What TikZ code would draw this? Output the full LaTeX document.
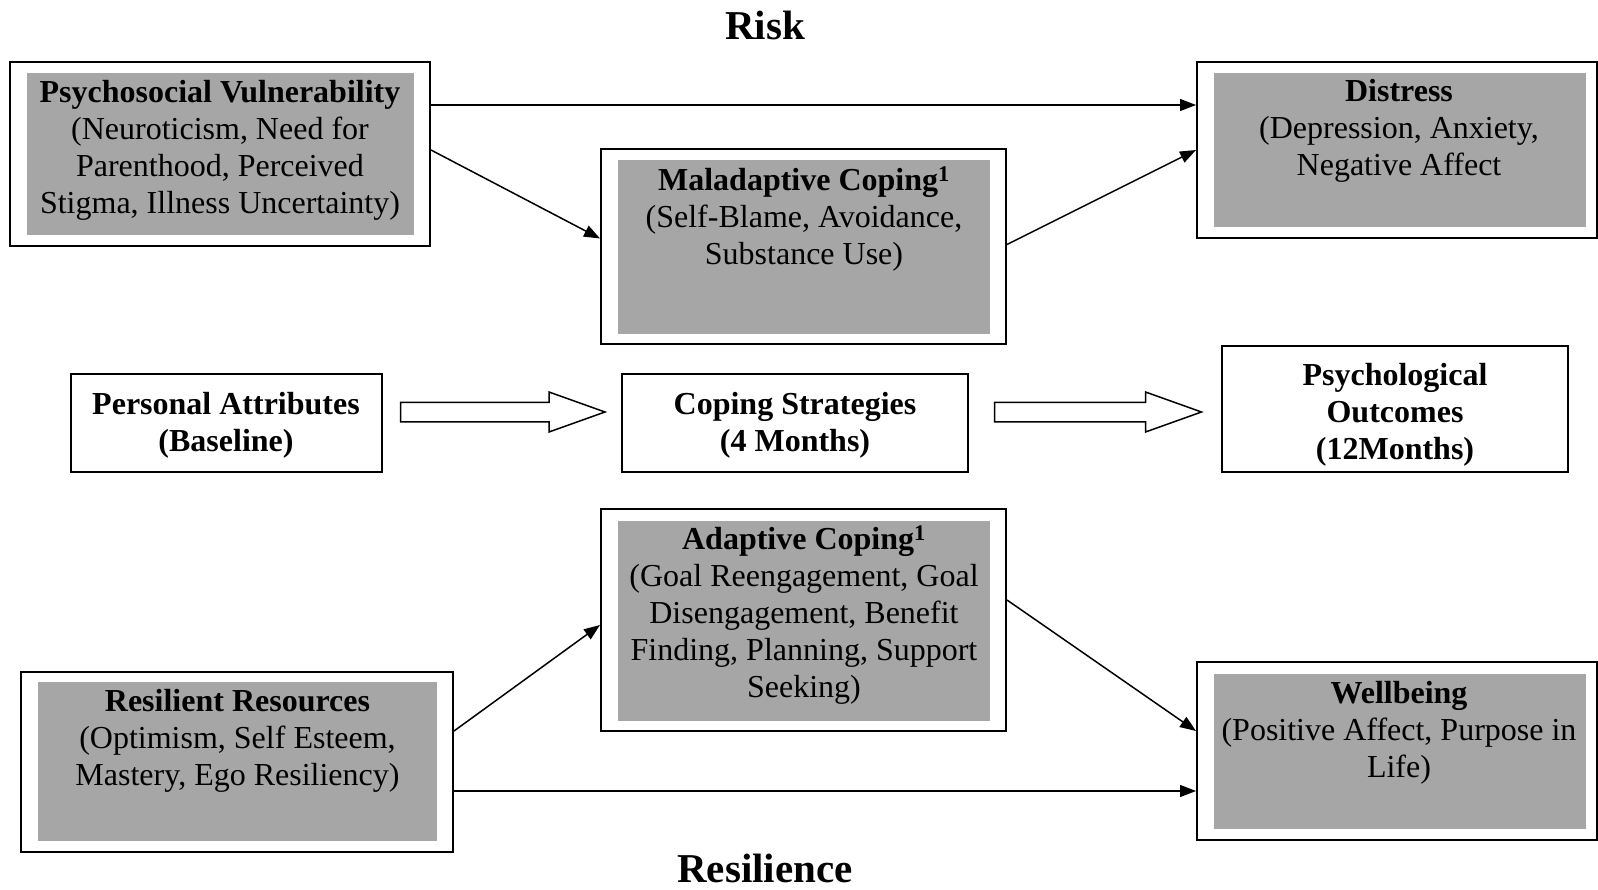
\documentclass[tikz,border=0pt]{standalone}
\usepackage{fontspec}
\setmainfont{Liberation Serif}
\usetikzlibrary{arrows.meta,calc}
\definecolor{boxgrey}{RGB}{166,166,166}
\tikzset{
  outerbox/.style={draw=black, line width=2pt, inner sep=0pt},
  greyfill/.style={fill=boxgrey},
  txt/.style={font=\fontsize{32}{37}\selectfont, align=center, inner sep=0pt},
  titletxt/.style={font=\fontsize{41}{47}\selectfont\bfseries, inner sep=0pt},
  arr/.style={line width=1.5pt, -{Triangle[length=16pt,width=12pt]}},
  hollow/.style={draw=black, line width=1.5pt, fill=white, line join=miter},
}
\begin{document}
\begin{tikzpicture}[x=1pt,y=-1pt]
\useasboundingbox (0,0) rectangle (1598,890);

% outer boxes
\node[outerbox, minimum width=420pt, minimum height=184pt] (pv) at (220,154) {};
\node[outerbox, minimum width=405pt, minimum height=195pt] (mal) at (803.5,246.5) {};
\node[outerbox, minimum width=400pt, minimum height=176pt] (dis) at (1397,150) {};
\node[outerbox, minimum width=311pt, minimum height=98pt] (pa) at (226.5,423) {};
\node[outerbox, minimum width=346pt, minimum height=98pt] (cs) at (795,423) {};
\node[outerbox, minimum width=346pt, minimum height=126.5pt] (po) at (1395,409) {};
\node[outerbox, minimum width=405pt, minimum height=221.5pt] (ad) at (803.5,620) {};
\node[outerbox, minimum width=432pt, minimum height=180.5pt] (rr) at (237,762) {};
\node[outerbox, minimum width=400pt, minimum height=178pt] (wb) at (1397,751) {};

% grey shading
\fill[greyfill] (27,73) rectangle (414,235);
\fill[greyfill] (618,160) rectangle (990,334);
\fill[greyfill] (1214,73) rectangle (1586,227);
\fill[greyfill] (618,521) rectangle (990,720.5);
\fill[greyfill] (37.7,682) rectangle (437,841);
\fill[greyfill] (1214,673.6) rectangle (1586,828.5);

% texts
\node[titletxt] (risk) at (765,25) {Risk};
\node[titletxt] (resil) at (765,868) {Resilience};

\node[txt] (tpv) at (220,150) {\textbf{Psychosocial Vulnerability}\\(Neuroticism, Need for\\Parenthood, Perceived\\Stigma, Illness Uncertainty)};
\node[txt] (tmal) at (804,219) {\textbf{Maladaptive Coping\textsuperscript{1}}\\(Self-Blame, Avoidance,\\Substance Use)};
\node[txt] (tdis) at (1399,131) {\textbf{Distress}\\(Depression, Anxiety,\\Negative Affect};
\node[txt] (tpa) at (226,425) {\textbf{Personal Attributes}\\\textbf{(Baseline)}};
\node[txt] (tcs) at (795,425) {\textbf{Coping Strategies}\\\textbf{(4 Months)}};
\node[txt] (tpo) at (1395,414.5) {\textbf{Psychological}\\\textbf{Outcomes}\\\textbf{(12Months)}};
\node[txt] (tad) at (804,615.5) {\textbf{Adaptive Coping\textsuperscript{1}}\\(Goal Reengagement, Goal\\Disengagement, Benefit\\Finding, Planning, Support\\Seeking)};
\node[txt] (trr) at (237.5,741) {\textbf{Resilient Resources}\\(Optimism, Self Esteem,\\Mastery, Ego Resiliency)};
\node[txt] (twb) at (1399,732.5) {\textbf{Wellbeing}\\(Positive Affect, Purpose in\\Life)};

% connectors
\draw[arr] ([yshift=49pt]pv.east) -- ([yshift=45pt]dis.west);
\draw[arr] ([yshift=4pt]pv.east) -- ([yshift=8pt]mal.west);
\draw[arr] ([yshift=2pt]mal.east) -- (dis.west);
\draw[arr] ([yshift=31pt]rr.east) -- ([yshift=-5pt]ad.west);
\draw[arr] ([yshift=20pt]ad.east) -- ([yshift=20pt]wb.west);
\draw[arr] ([yshift=-29pt]rr.east) -- ([yshift=-40pt]wb.west);

% hollow block arrows
\coordinate (h1s) at ([xshift=17.5pt,yshift=11pt]pa.east);
\coordinate (h1e) at ([xshift=-16pt,yshift=11pt]cs.west);
\draw[hollow] ($(h1s)+(0,-9.75)$) -- ($(h1e)+(-56,-9.75)$) -- ($(h1e)+(-56,-20)$) -- (h1e)
  -- ($(h1e)+(-56,20)$) -- ($(h1e)+(-56,9.75)$) -- ($(h1s)+(0,9.75)$) -- cycle;
\coordinate (h2s) at ([xshift=25.6pt,yshift=11pt]cs.east);
\coordinate (h2e) at ([xshift=-19.5pt,yshift=-3pt]po.west);
\draw[hollow] ($(h2s)+(0,-9.75)$) -- ($(h2e)+(-56,-9.75)$) -- ($(h2e)+(-56,-20)$) -- (h2e)
  -- ($(h2e)+(-56,20)$) -- ($(h2e)+(-56,9.75)$) -- ($(h2s)+(0,9.75)$) -- cycle;
\end{tikzpicture}
\end{document}
